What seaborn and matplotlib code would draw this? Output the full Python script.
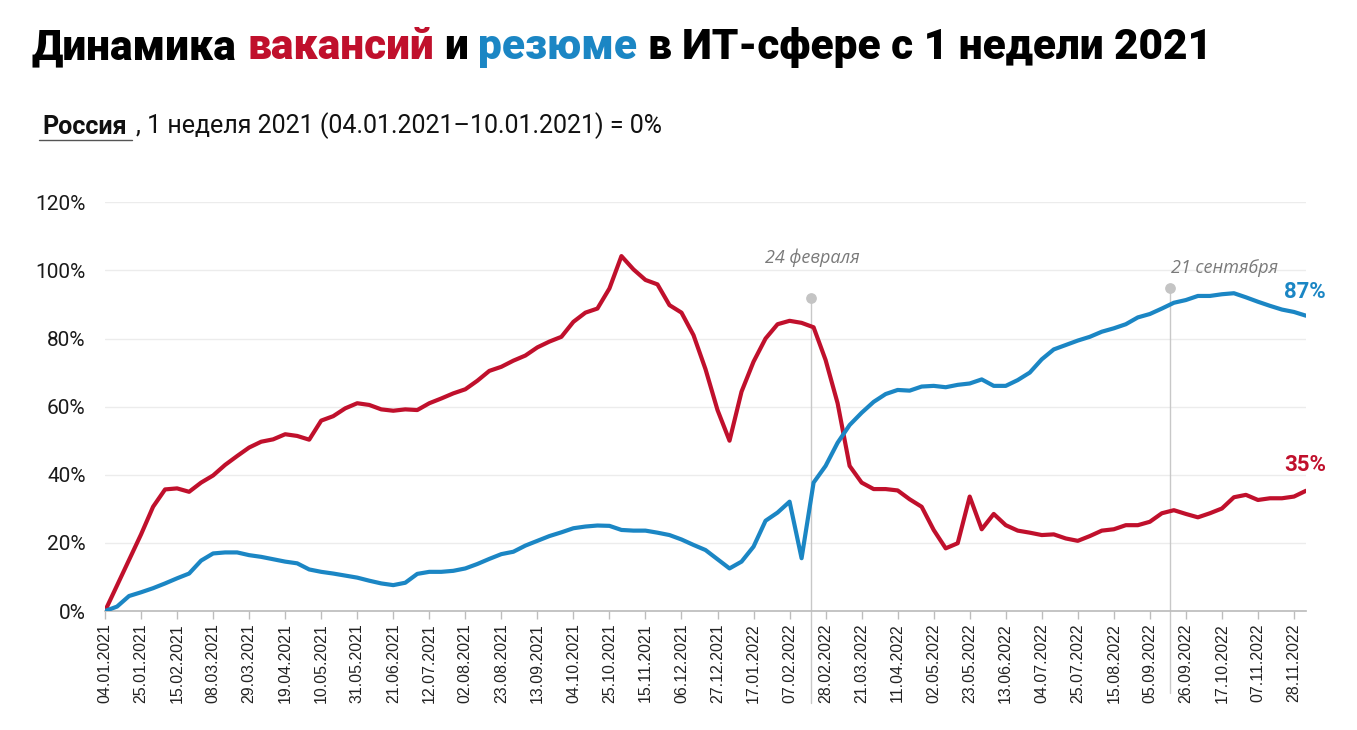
import matplotlib
matplotlib.use("Agg")
import matplotlib.pyplot as plt
import pandas as pd
import seaborn as sns

# weekly index, week 1 of 2021 = 0%
weeks = pd.date_range("2021-01-04", periods=101, freq="7D")

vacancies = [0, 7.5, 15, 22.5, 30.6, 35.7, 36, 35, 37.7, 39.8,
             42.9, 45.5, 48, 49.7, 50.4, 51.9, 51.4, 50.3, 55.9, 57.2,
             59.5, 61, 60.5, 59.2, 58.8, 59.2, 59, 61, 62.4, 63.9,
             65.1, 67.6, 70.5, 71.7, 73.5, 75, 77.4, 79.1, 80.5, 84.9,
             87.6, 88.8, 94.7, 104.2, 100.3, 97.2, 95.9, 89.8, 87.6, 81,
             71, 59, 50, 64.4, 73.2, 80, 84.2, 85.2, 84.6, 83.3,
             73.7, 61, 42.6, 37.7, 35.8, 35.8, 35.4, 32.8, 30.6, 23.8,
             18.4, 19.9, 33.6, 24, 28.5, 25.2, 23.6, 23, 22.3, 22.5,
             21.3, 20.6, 22, 23.6, 24, 25.2, 25.2, 26.2, 28.7, 29.6,
             28.5, 27.5, 28.7, 30.1, 33.4, 34.1, 32.6, 33.1, 33.1, 33.6, 35.3]

resumes = [0, 1.3, 4.4, 5.5, 6.7, 8.1, 9.6, 11, 14.8, 16.9,
           17.2, 17.2, 16.4, 15.9, 15.2, 14.5, 14, 12.2, 11.5, 11,
           10.4, 9.8, 8.9, 8.1, 7.6, 8.3, 10.9, 11.5, 11.5, 11.8,
           12.5, 13.8, 15.3, 16.7, 17.4, 19.2, 20.6, 22, 23.1, 24.3,
           24.8, 25.1, 25, 23.8, 23.6, 23.6, 23, 22.3, 21, 19.4,
           17.9, 15.2, 12.5, 14.5, 18.9, 26.5, 28.9, 32.1, 15.5, 37.7,
           42.6, 49.4, 54.6, 58.2, 61.4, 63.7, 64.9, 64.7, 65.9, 66.1,
           65.7, 66.4, 66.8, 68, 66.1, 66.1, 67.8, 70, 73.9, 76.8,
           78.1, 79.4, 80.5, 82, 83, 84.2, 86.2, 87.2, 88.8, 90.5,
           91.3, 92.5, 92.5, 93, 93.3, 92.1, 90.8, 89.6, 88.5, 87.8, 86.7]

events = ["24 февраля", "21 сентября"]
event_x = [58.75, 88.7]
end_labels = ["35%", "87%"]

RED = "#c0102c"
BLUE = "#1b86c4"

df = pd.concat([
    pd.DataFrame({"week": range(len(weeks)), "value": vacancies, "series": "вакансии"}),
    pd.DataFrame({"week": range(len(weeks)), "value": resumes, "series": "резюме"}),
])

sns.set_theme(style="white")
plt.rcParams["font.family"] = ["Roboto", "DejaVu Sans"]

fig = plt.figure(figsize=(13.57, 7.30), dpi=100)
ax = fig.add_axes([0.0774, 0.163, 0.885, 0.5599])

sns.lineplot(data=df, x="week", y="value", hue="series",
             palette={"вакансии": RED, "резюме": BLUE},
             linewidth=3.0, legend=False, ax=ax, zorder=4)

ax.set_xlim(0, len(weeks) - 1)
ax.set_ylim(0, 120)
ax.set_xlabel("")
ax.set_ylabel("")

# axes styling
ax.set_yticks(range(0, 121, 20))
ax.set_yticklabels([f"{v}%" for v in range(0, 121, 20)])
tick_pos = list(range(0, len(weeks), 3))
ax.set_xticks(tick_pos)
ax.set_xticklabels(weeks[tick_pos].strftime("%d.%m.%Y"), rotation=90,
                   fontfamily="Liberation Sans")
ax.tick_params(axis="y", length=0, pad=14, labelsize=15, labelcolor="#1a1a1a")
ax.tick_params(axis="x", length=6, width=1, color="#bdbdbd", pad=3,
               labelsize=11.5, labelcolor="#222222", bottom=True)
ax.yaxis.grid(True, color="#ececec", linewidth=1)
ax.set_axisbelow(True)
for s in ["left", "top", "right"]:
    ax.spines[s].set_visible(False)
ax.spines["bottom"].set_color("#bdbdbd")

# event markers
dot_y = [91.8, 94.7]
line_bottom = [-27, -24]
label_pos = [(58.9, 103.8), (93.25, 100.6)]
for name, x, dy, lb, (lx, ly) in zip(events, event_x, dot_y, line_bottom, label_pos):
    ax.plot([x, x], [lb, dy], color="#c8c8c8", linewidth=1, clip_on=False, zorder=1)
    ax.scatter([x], [dy], s=45, color="#c4c4c4", clip_on=False, zorder=3)
    ax.text(lx, ly, name, fontfamily="Open Sans", style="italic", color="#7a7a7a",
            fontsize=13, ha="center", va="center")

# end-value labels
ax.text(99.9, 42.8, end_labels[0], color=RED, fontsize=16, fontweight="bold",
        ha="center", va="center")
ax.text(99.9, 93.8, end_labels[1], color=BLUE, fontsize=16, fontweight="bold",
        ha="center", va="center")

# title with coloured words
pieces = [("Динамика", "#000000"), ("вакансий", RED), ("и", "#000000"),
          ("резюме", BLUE), ("в ИТ-сфере с 1 недели 2021", "#000000")]
prev = fig.text(32 / 1357, 1 - 59 / 730, pieces[0][0], fontsize=30.5,
                fontweight="heavy", color=pieces[0][1], va="baseline")
for txt, col in pieces[1:]:
    prev = ax.annotate(txt, xy=(1, 0), xycoords=prev, xytext=(7.5, 0),
                       textcoords="offset points", fontsize=30.5, fontweight="heavy",
                       color=col, va="bottom", annotation_clip=False)

# subtitle
region = fig.text(42 / 1357, 1 - 134 / 730, "Россия", fontsize=18,
                  fontweight="bold", color="#111111", va="baseline")
ax.annotate(", 1 неделя 2021 (04.01.2021–10.01.2021) = 0%", xy=(1, 0),
            xycoords=region, xytext=(7, 0), textcoords="offset points",
            fontsize=18, color="#111111", va="bottom", annotation_clip=False)
fig.canvas.draw()
bb = region.get_window_extent().transformed(fig.transFigure.inverted())
fig.add_artist(plt.Line2D([bb.x0 - 0.002, bb.x1 + 0.004], [1 - 140 / 730] * 2,
                          color="#555555", linewidth=1, transform=fig.transFigure))

fig.savefig("out.png", dpi=100, facecolor="white")
